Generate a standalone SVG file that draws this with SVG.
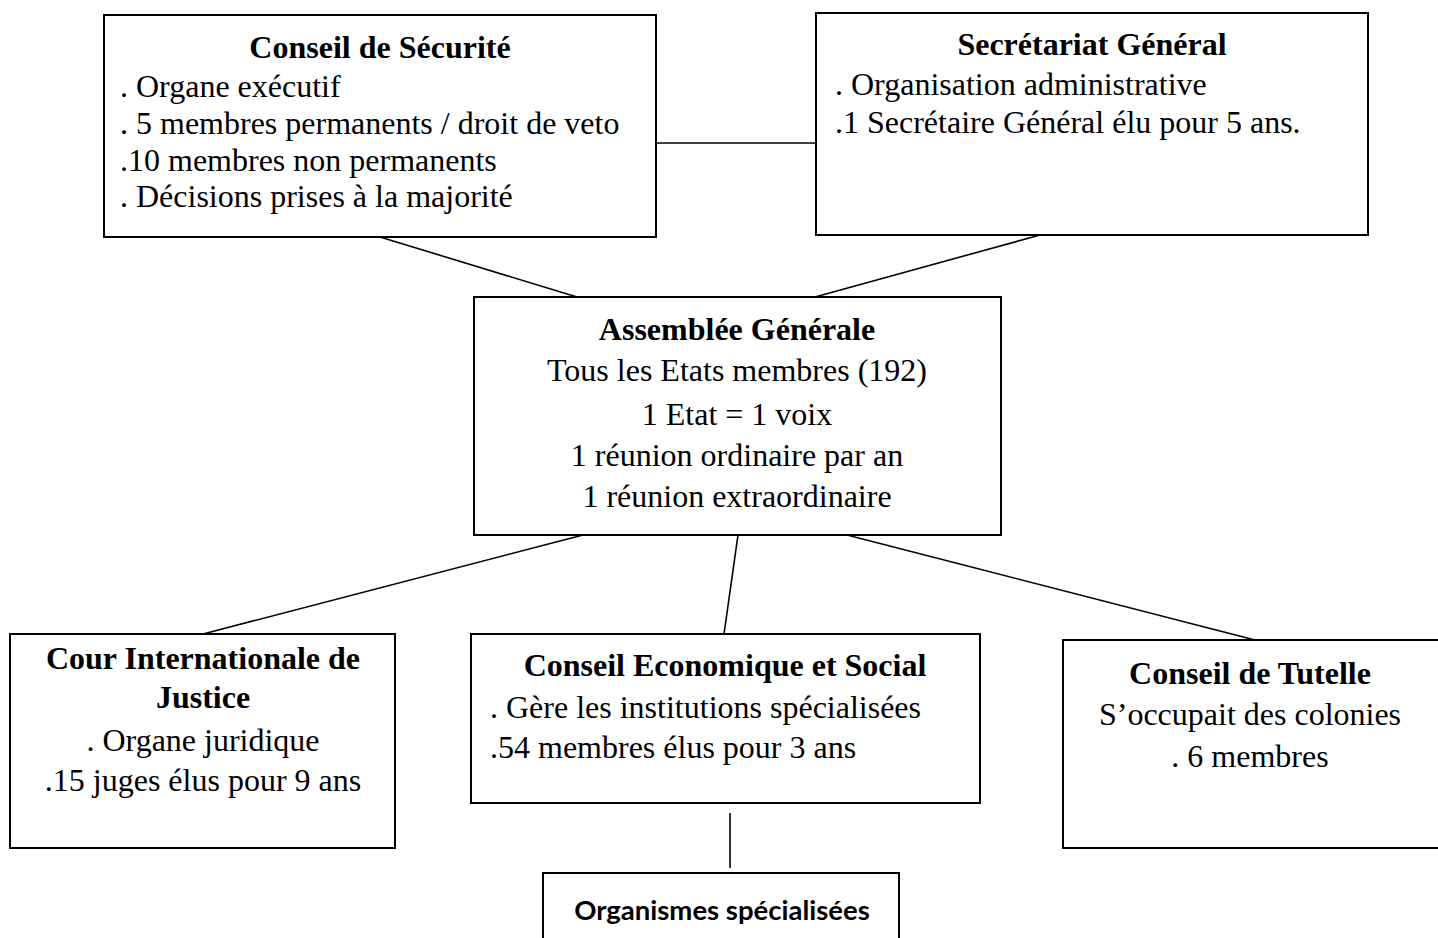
<svg xmlns="http://www.w3.org/2000/svg" width="1438" height="938" viewBox="0 0 1438 938">
<style>
.box{fill:#fff;stroke:#000;stroke-width:2}
.ln{stroke:#000;stroke-width:1.6;fill:none}
.t{font-family:"Liberation Serif","Times New Roman",serif;font-size:32px;fill:#000}
.b{font-weight:bold}
.c{text-anchor:middle}
.o{font-family:Lato,"Open Sans",sans-serif;font-size:27.5px;font-weight:bold;fill:#000;text-anchor:middle}
</style>
<rect width="1438" height="938" fill="#fff"/>
<g id="connectors">
<line class="ln" x1="656" y1="143" x2="816" y2="143"/>
<line class="ln" x1="380" y1="237" x2="577" y2="297"/>
<line class="ln" x1="1040" y1="235" x2="815" y2="297"/>
<line class="ln" x1="583" y1="535" x2="203" y2="634"/>
<line class="ln" x1="738" y1="535" x2="724" y2="634"/>
<line class="ln" x1="847" y1="535" x2="1255" y2="640"/>
<line class="ln" x1="730" y1="813" x2="730" y2="868"/>
</g>
<g id="conseil-securite">
<rect class="box" x="104" y="15" width="552" height="222"/>
<text class="t b c" x="380" y="58">Conseil de Sécurité</text>
<text class="t" x="120" y="97">. Organe exécutif</text>
<text class="t" x="120" y="134">. 5 membres permanents / droit de veto</text>
<text class="t" x="120" y="171">.10 membres non permanents</text>
<text class="t" x="120" y="207">. Décisions prises à la majorité</text>
</g>
<g id="secretariat">
<rect class="box" x="816" y="13" width="552" height="222"/>
<text class="t b c" x="1092" y="55">Secrétariat Général</text>
<text class="t" x="835" y="95">. Organisation administrative</text>
<text class="t" x="835" y="133">.1 Secrétaire Général élu pour 5 ans.</text>
</g>
<g id="assemblee">
<rect class="box" x="474" y="297" width="527" height="238"/>
<text class="t b c" x="737" y="340">Assemblée Générale</text>
<text class="t c" x="737" y="381">Tous les Etats membres (192)</text>
<text class="t c" x="737" y="425">1 Etat = 1 voix</text>
<text class="t c" x="737" y="466">1 réunion ordinaire par an</text>
<text class="t c" x="737" y="507">1 réunion extraordinaire</text>
</g>
<g id="cour">
<rect class="box" x="10" y="634" width="385" height="214"/>
<text class="t b c" x="203" y="669">Cour Internationale de</text>
<text class="t b c" x="203" y="708">Justice</text>
<text class="t c" x="203" y="751">. Organe juridique</text>
<text class="t c" x="203" y="791">.15 juges élus pour 9 ans</text>
</g>
<g id="ecosoc">
<rect class="box" x="471" y="634" width="509" height="169"/>
<text class="t b c" x="725" y="676">Conseil Economique et Social</text>
<text class="t" x="490" y="718">. Gère les institutions spécialisées</text>
<text class="t" x="490" y="758">.54 membres élus pour 3 ans</text>
</g>
<g id="tutelle">
<rect class="box" x="1063" y="640" width="390" height="208"/>
<text class="t b c" x="1250" y="684">Conseil de Tutelle</text>
<text class="t c" x="1250" y="725">S’occupait des colonies</text>
<text class="t c" x="1250" y="767">. 6 membres</text>
</g>
<g id="organismes">
<rect class="box" x="543" y="873" width="356" height="80"/>
<text class="o" x="722" y="920">Organismes spécialisées</text>
</g>
</svg>
